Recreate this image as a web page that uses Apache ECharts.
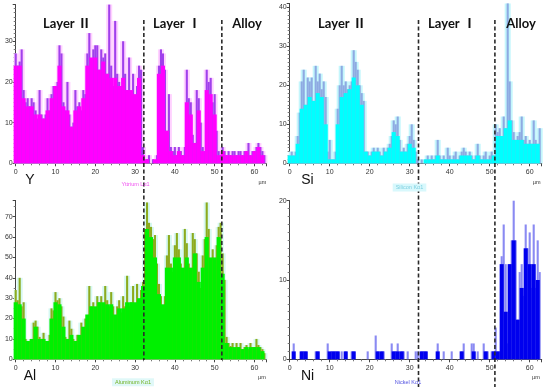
<!DOCTYPE html>
<html><head><meta charset="utf-8">
<script src="https://cdn.jsdelivr.net/npm/echarts@6/dist/echarts.min.js"></script>
<style>html,body{margin:0;padding:0;background:#fff}#c{width:550px;height:388px}</style>
</head><body><div id="c"></div>
<script>
// ---- DATA (counts vs distance in µm) ----
// peak series: one value every 0.5 µm from 0 to 62.5
const yPeak = [
 27,24,25,28,18,15,16,14,16,15,
 13,11,18,12,11,12,16,13,17,19,
 19,20,29,27,15,13,20,12,9,10,
 18,14,15,13,18,17,27,32,25,28,
 29,29,23,28,26,27,22,39,24,19,
 35,22,20,19,30,22,18,26,17,22,
 16,19,24,23,4,0,1,2,0,1,
 0,2,24,28,27,23,8,17,4,3,
 4,2,4,3,2,4,23,16,15,7,
 5,18,16,10,4,3,23,20,21,15,
 17,8,3,2,4,3,2,3,2,3,
 3,2,3,3,2,3,3,5,2,3,
 3,4,5,4,3,2];
// fill series: one value every 1 µm from 0 to 62
const yFill = [
 24,24,16,14,14,12,12,11,13,16,
 19,24,14,13,9,13,14,16,24,26,
 26,23,25,22,21,21,19,21,18,18,
 17,21,2,1,0,1,22,24,8,3,
 2,3,2,15,12,5,13,3,18,17,
 12,2,3,2,2,2,2,2,3,2,
 3,4,2];
const siPeak = [
 2,3,2,3,7,13,21,24,15,22,
 21,22,16,25,21,23,19,21,17,3,
 6,1,1,3,14,20,25,20,21,19,
 20,21,29,26,24,20,18,16,3,3,
 2,3,4,3,4,3,2,4,3,4,
 5,7,11,10,12,6,3,4,3,5,
 7,10,6,3,1,0,1,0,1,2,
 1,2,1,2,6,2,1,2,1,4,
 2,1,2,3,1,2,3,4,3,2,
 3,2,1,2,5,2,1,2,3,1,
 2,3,2,10,8,9,7,12,9,41,
 21,11,8,6,7,8,12,6,7,5,
 6,5,11,6,5,9];
const siFill = [
 2,2,5,14,15,17,16,18,17,10,
 1,1,10,17,18,19,22,20,15,3,
 2,3,3,2,3,4,8,7,3,3,
 5,4,0,0,1,1,1,2,1,1,
 1,1,1,2,2,2,1,2,1,1,
 1,2,7,7,9,11,6,6,6,5,
 5,5,5];
const alPeak = [
 34,29,40,26,28,10,9,9,9,18,
 19,16,11,10,13,9,8,12,25,24,
 33,29,30,26,21,11,8,19,15,10,
 8,12,11,18,15,20,18,36,26,28,
 25,31,28,31,26,36,29,26,33,26,
 21,26,29,23,31,26,41,26,28,36,
 26,37,29,34,38,64,77,67,65,59,
 61,47,37,31,25,31,51,61,47,43,
 56,62,54,47,43,64,57,47,43,62,
 59,52,43,35,51,59,77,64,47,54,
 47,56,65,67,52,39,11,8,6.5,8,
 5,8,6,8,5,6,7,5,8,6,
 6,10,7,6,5,3];
const alFill = [
 28,27,20,9,10,16,10,10,9,20,
 28,27,16,10,12,9,12,16,22,26,
 26,28,28,27,27,22,25,25,28,28,
 28,30,36,64,60,50,32,27,45,45,
 50,50,45,50,45,52,38,45,60,50,
 50,60,42,8,6,6,6,5,6,6,
 6,6,4];
const niPeak = [
 0,0,2,0,0,0,1,1,1,0,
 0,0,0,1,1,0,0,0,0,2,
 0,1,1,1,1,0,1,0,1,0,
 0,1,1,0,0,0,0,0,0,1,
 0,0,0,3,1,0,1,1,0,0,
 0,2,1,1,2,0,1,1,0,1,
 0,0,0,1,1,0,1,1,1,0,
 0,0,0,0,2,0,0,1,0,0,
 0,1,0,0,0,0,1,2,0,0,
 0,2,2,0,1,0,0,2,1,1,
 0,1,1,4,1,1,13,17,12,2,
 12,15,20,15,5,11,12,8,17,14,
 16,9,17,9,15,11];
const niFill = [
 0,1,0,1,1,0,0,1,0,0,
 1,1,1,0,1,0,1,0,0,0,
 0,0,1,1,0,0,1,1,1,0,
 0,0,0,1,1,0,0,1,0,0,
 0,0,0,1,0,0,1,0,0,1,
 0,1,1,12,6,12,15,5,9,14,
 12,12,10];
const elements = ['Y','Si','Al','Ni'];
const lineNames = ['Yttrium Lα1','Silicon Kα1','Aluminum Kα1','Nickel Kα1'];
const regionNames = ['Layer Ⅱ','Layer Ⅰ','Alloy'];
const boundariesLeft = [32.2, 51.8];
const boundariesRight = [32.2, 51.3];

// ---- LAYOUT / STYLE ----
const peakStep = 0.5, fillStep = 1;
const toPairs = (arr, st) => arr.map((v,i)=>[i*st, v]);
const panels = [
 {peak:yPeak, fill:yFill, max:39, minor:10, grid:{left:15.7,top:4.6,width:250.7,height:158.7}, fc:'#ff00ff', pc:'#a040ec', hc:'#ffd2ff', showMax:false},
 {peak:siPeak, fill:siFill, max:41, minor:10, grid:{left:289.7,top:3.4,width:252,height:159.9}, fc:'#00ffff', pc:'#8eaae2', hc:'#c4f6fc', showMax:false},
 {peak:alPeak, fill:alFill, max:78, minor:2, grid:{left:15.7,top:200.4,width:250.7,height:158.9}, fc:'#00f000', pc:'#8cab1e', hc:'#d6f8f2', showMax:false},
 {peak:niPeak, fill:niFill, max:20, minor:10, grid:{left:289.7,top:200.7,width:252,height:158.6}, fc:'#0000ee', pc:'#8a8af2', hc:null, showMax:true}
];
const axisCol = '#444';
const grids = [], xAxes = [], yAxes = [], series = [];
panels.forEach((p,i)=>{
  grids.push(Object.assign({containLabel:false}, p.grid));
  const xBase = {type:'value', gridIndex:i, min:0, max:63, interval:10};
  xAxes.push(Object.assign({}, xBase, {
    axisLine:{show:true, lineStyle:{color:axisCol,width:1}},
    axisTick:{show:true, length:3, lineStyle:{color:axisCol}},
    minorTick:{show:true, splitNumber:5, length:2, lineStyle:{color:'#777'}},
    axisLabel:{fontSize:7, color:'#333', margin:5, showMaxLabel:false, fontFamily:'Liberation Sans'},
    splitLine:{show:false}
  }));
  xAxes.push(Object.assign({}, xBase, {show:false}));
  xAxes.push(Object.assign({}, xBase, {show:false}));
  yAxes.push({type:'value', gridIndex:i, min:0, max:p.max, interval:10,
    axisLine:{show:true, lineStyle:{color:axisCol,width:1}},
    axisTick:{show:true, length:3, lineStyle:{color:axisCol}},
    minorTick:{show:true, splitNumber:p.minor, length:2, lineStyle:{color:'#777'}},
    axisLabel:{fontSize:7, color:'#333', margin:3, showMaxLabel:p.showMax, fontFamily:'Liberation Sans'},
    splitLine:{show:false}
  });
  if (p.hc) series.push({type:'bar', name:lineNames[i]+' halo', xAxisIndex:3*i+2, yAxisIndex:i,
    data:toPairs(p.peak, peakStep), barWidth:6, itemStyle:{color:p.hc}, z:1, silent:true, animation:false});
  series.push({type:'bar', name:lineNames[i]+' peak', xAxisIndex:3*i, yAxisIndex:i,
    data:toPairs(p.peak, peakStep), barWidth:2.1, itemStyle:{color:p.pc}, z:2, silent:true, animation:false});
  series.push({type:'bar', name:lineNames[i], xAxisIndex:3*i+1, yAxisIndex:i,
    data:toPairs(p.fill, fillStep), barWidth:4.1, itemStyle:{color:p.fc}, z:3, silent:true, animation:false});
});

const chart = echarts.init(document.getElementById('c'), null, {renderer:'canvas'});
chart.setOption({animation:false, grid:grids, xAxis:xAxes, yAxis:yAxes, series:series});

// ---- annotations ----
const g = [];
const dash = (x, y1, y2) => ({type:'line', shape:{x1:x,y1:y1,x2:x,y2:y2}, z:50,
  style:{stroke:'#2a2a2a', lineWidth:1.6, lineDash:[4,2.5]}});
boundariesLeft.forEach(b=>{
  const x = chart.convertToPixel({xAxisIndex:0, yAxisIndex:0}, [b,0])[0];
  g.push(dash(x, 20, 360));
});
boundariesRight.forEach(b=>{
  const x = chart.convertToPixel({xAxisIndex:3, yAxisIndex:1}, [b,0])[0];
  g.push(dash(x, 20, 387));
});
const txt = (s, x, y, font, fill, extra) => Object.assign({type:'text', x:x, y:y, z:60,
  style:Object.assign({text:s, font:font, fill:fill, align:'center', verticalAlign:'middle'}, extra||{})});
const layerFont = 'bold 13px Lato, "Noto Sans CJK SC", sans-serif';
[[67,177,247],[342,452,521]].forEach(xs=>{
  xs.forEach((x,k)=>g.push(txt(regionNames[k], x, 24, layerFont, '#111')));
});
const elFont = '14px "Liberation Sans", Arial, sans-serif';
g.push(txt(elements[0], 30, 180.5, elFont, '#111'));
g.push(txt(elements[1], 307.5, 180, elFont, '#111'));
g.push(txt(elements[2], 30, 375.7, elFont, '#111'));
g.push(txt(elements[3], 307.5, 375.7, elFont, '#111'));
const smFont = '5.5px "Liberation Sans", Arial, sans-serif';
g.push(txt(lineNames[0], 135.5, 184.5, smFont, '#f050f0'));
g.push(txt(lineNames[1], 409.5, 187.5, smFont, '#7fd0e0', {backgroundColor:'#d8f8fc', padding:[1,3]}));
g.push(txt(lineNames[2], 133, 382.3, smFont, '#70b020', {backgroundColor:'#e0f8f8', padding:[1,3]}));
g.push(txt(lineNames[3], 408, 382, smFont, '#5050e0'));
const umFont = '5.5px "Liberation Sans", Arial, sans-serif';
[[262.5,182],[536.7,182],[262,377],[536,377]].forEach(([x,y])=>g.push(txt('µm', x, y, umFont, '#333')));
chart.setOption({graphic:g});
</script>
</body></html>
